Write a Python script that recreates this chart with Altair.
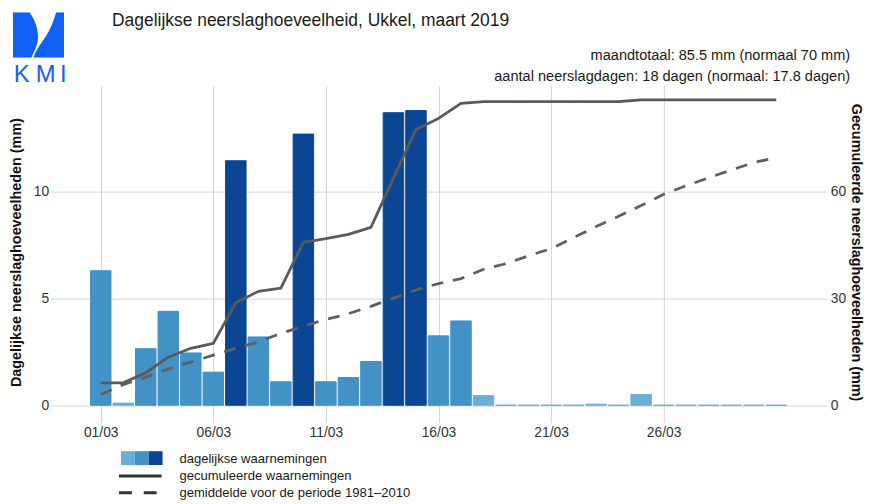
import urllib.parse
import altair as alt
import pandas as pd

# ---------------- data ----------------
days = list(range(1, 32))
daily_mm = [6.3, 0.1, 2.65, 4.4, 2.45, 1.55, 11.45, 3.2, 1.1, 12.7, 1.1, 1.3, 2.05,
            13.7, 13.8, 3.25, 3.95, 0.45, 0.0, 0.0, 0.0, 0.0, 0.05, 0.0, 0.5,
            0.0, 0.0, 0.0, 0.0, 0.0, 0.0]
cumulative_mm = [6.3, 6.3, 9.1, 13.5, 16.0, 17.4, 28.8, 32.0, 32.9, 45.8, 46.8, 48.0,
                 50.0, 63.8, 77.5, 80.6, 84.8, 85.3, 85.3, 85.3, 85.3, 85.3, 85.3,
                 85.3, 85.8, 85.8, 85.8, 85.8, 85.8, 85.8, 85.8]
normal_mm = [3.0, 5.8, 7.9, 10.2, 12.1, 14.1, 16.0, 17.8, 20.2, 22.2, 24.1, 25.7,
             27.8, 30.1, 32.4, 34.2, 35.6, 38.2, 39.8, 42.0, 44.0, 47.1, 50.2, 53.1,
             56.1, 59.3, 61.7, 63.9, 66.1, 68.2, 69.6]

class_names = ["laag", "midden", "hoog"]
class_colors = ["#6baed6", "#4292c6", "#0a4694"]
x_tick_days = [1, 6, 11, 16, 21, 26]
left_ticks = [0, 5, 10]
right_ticks = [0, 30, 60]

title_text = "Dagelijkse neerslaghoeveelheid, Ukkel, maart 2019"
info_lines = ["maandtotaal: 85.5 mm (normaal 70 mm)",
              "aantal neerslagdagen: 18 dagen (normaal: 17.8 dagen)"]
legend_labels = ["dagelijkse waarnemingen", "gecumuleerde waarnemingen",
                 "gemiddelde voor de periode 1981\u20132010"]
left_title = "Dagelijkse neerslaghoeveelheden (mm)"
right_title = "Gecumuleerde neerslaghoeveelheden (mm)"
logo_letters = ["K", "M", "I"]

# ---------------- tables ----------------
def klass(v):
    return "laag" if v < 1 else ("midden" if v < 10 else "hoog")

bars_df = pd.DataFrame({"day": days, "mm": daily_mm,
                        "cls": [klass(v) for v in daily_mm]})
cum_df = pd.DataFrame({"day": days, "v": cumulative_mm})
norm_df = pd.DataFrame({"day": days, "v": normal_mm})

W, H = 775, 336
FONT = "Liberation Sans"
GRID = "#d4d4d4"
TXT = "#333333"
LABEL_FS = 14
AXTITLE_FS = 14.5

xscale = alt.Scale(domain=[-1.05, 33.05], nice=False, zero=False)
x_axis = alt.Axis(values=x_tick_days, grid=True, gridColor=GRID, gridWidth=1,
                  domain=False, tickColor=GRID, tickSize=4, tickWidth=1,
                  labelFontSize=LABEL_FS, labelColor=TXT, labelPadding=3,
                  labelExpr="(datum.value < 10 ? '0' : '') + datum.value + '/03'",
                  title=None)

colscale = alt.Scale(domain=class_names, range=class_colors)

bars = alt.Chart(bars_df).transform_calculate(
    x0="datum.day - 0.455", x1="datum.day + 0.455", base="0"
).mark_bar(strokeWidth=1).encode(
    x=alt.X("x0:Q", scale=xscale, axis=x_axis),
    x2="x1:Q",
    y=alt.Y("mm:Q", scale=alt.Scale(domain=[-0.62, 14.97], nice=False, zero=False),
            axis=alt.Axis(values=left_ticks, grid=True, gridColor=GRID, gridWidth=1,
                          domain=False, tickColor=GRID, tickSize=4,
                          labelFontSize=LABEL_FS, labelColor=TXT, labelPadding=2,
                          title=left_title, titleFontSize=AXTITLE_FS,
                          titleFontWeight="bold",
                          titleColor="#111111", titleX=-38, titleY=H / 2,
                          titleAngle=270, titleAlign="center",
                          titleBaseline="middle")),
    y2="base:Q",
    color=alt.Color("cls:N", scale=colscale, legend=None),
    stroke=alt.Stroke("cls:N", scale=colscale, legend=None),
)

yright = alt.Scale(domain=[-3.72, 89.82], nice=False, zero=False)
right_axis = alt.Axis(orient="right", values=right_ticks, grid=False,
                      domain=False, tickColor=GRID, tickSize=4,
                      labelFontSize=LABEL_FS, labelColor=TXT, labelPadding=4,
                      title=right_title, titleFontSize=AXTITLE_FS,
                      titleFontWeight="bold", titleColor="#111111",
                      titleX=33, titleY=H / 2, titleAngle=90,
                      titleAlign="center", titleBaseline="middle")
cum_line = alt.Chart(cum_df).mark_line(color="#5a5a5a", strokeWidth=2.8,
                                       strokeJoin="round").encode(
    x=alt.X("day:Q", scale=xscale, axis=x_axis),
    y=alt.Y("v:Q", scale=yright, axis=right_axis),
)
norm_line = alt.Chart(norm_df).mark_line(color="#606060", strokeWidth=2.8,
                                         strokeDash=[12, 10]).encode(
    x=alt.X("day:Q", scale=xscale, axis=x_axis),
    y=alt.Y("v:Q", scale=yright, axis=right_axis),
)
lines = alt.layer(cum_line, norm_line)

# ---------------- annotations (positions relative to plot origin 55,84) ----------------
OX, OY = 55, 84

def text_layer(txt, x, y, size=13, align="left", color="#1a1a1a", weight="normal"):
    return alt.Chart(pd.DataFrame({"t": [txt]})).mark_text(
        align=align, baseline="middle", fontSize=size, color=color,
        font=FONT, fontWeight=weight
    ).encode(text="t:N", x=alt.value(x - OX), y=alt.value(y - OY))

ann = [
    text_layer(title_text, 113, 19, size=17.6),
    text_layer(info_lines[0], 858, 54, size=14.7, align="right"),
    text_layer(info_lines[1], 858, 75, size=14.7, align="right"),
    text_layer(legend_labels[0], 181, 461, size=13.2),
    text_layer(legend_labels[1], 181, 478, size=13.2),
    text_layer(legend_labels[2], 181, 495, size=13.2),
]

# legend swatches
for i, c in enumerate(class_colors):
    ann.append(alt.Chart(pd.DataFrame({"c": [c]})).mark_rect(color=c).encode(
        x=alt.value(122 + i * 14 - OX), x2=alt.value(122 + (i + 1) * 14 - OX),
        y=alt.value(453 - OY), y2=alt.value(467 - OY)))
ann.append(alt.Chart(pd.DataFrame({"k": ["solid"]})).mark_rule(
    color="#333333", strokeWidth=3).encode(
    x=alt.value(120 - OX), x2=alt.value(163 - OX), y=alt.value(478 - OY)))
ann.append(alt.Chart(pd.DataFrame({"k": ["dash"]})).mark_rule(
    color="#333333", strokeWidth=3, strokeDash=[13, 12]).encode(
    x=alt.value(120 - OX), x2=alt.value(159 - OX), y=alt.value(495 - OY)))

# KMI logo
LOGO_BLUE = "#1160f4"
svg = ('<svg xmlns="http://www.w3.org/2000/svg" viewBox="0 0 56 46" '
       'preserveAspectRatio="none">'
       '<path fill="%s" d="M0,0 L18,0 C25,9 28,19 27,28 C26,36 22,41 20,46 L0,46 Z"/>'
       '<path fill="%s" d="M56,0 L47,0 C44,10 40,18 36,24 C31,31 25,38 22,46 L56,46 Z"/>'
       '</svg>') % (LOGO_BLUE, LOGO_BLUE)
uri = "data:image/svg+xml;charset=utf-8," + urllib.parse.quote(svg)
ann.append(alt.Chart(pd.DataFrame({"u": [uri]})).mark_image(
    width=52, height=46, aspect=False, align="left", baseline="top").encode(
    url="u:N", x=alt.value(13 - OX), y=alt.value(10 - OY)))
for letter, cx in zip(logo_letters, [21.7, 46.0, 63.8]):
    ann.append(alt.Chart(pd.DataFrame({"t": [letter]})).mark_text(
        align="center", baseline="alphabetic", fontSize=24, color=LOGO_BLUE,
        font=FONT).encode(text="t:N", x=alt.value(cx - OX), y=alt.value(80 - OY)))

chart = alt.layer(bars, lines, *ann).resolve_scale(
    y="independent", color="independent", stroke="independent"
).properties(
    width=W, height=H,
    autosize=alt.AutoSizeParams(type="none"),
    padding={"left": 47, "top": 76, "right": 43, "bottom": 86},
).configure(font=FONT).configure_view(stroke=None)

chart.save("out.html", embed_options={"renderer": "svg", "actions": False})
